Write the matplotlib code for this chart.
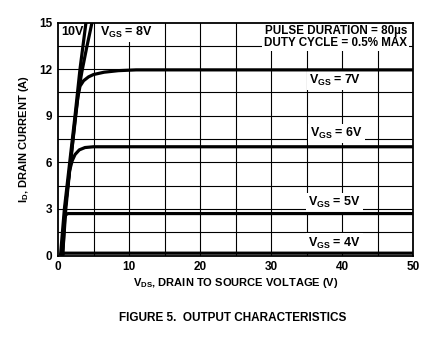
import matplotlib
matplotlib.use("Agg")
import matplotlib.pyplot as plt

plt.rcParams['font.family'] = ['Liberation Sans', 'DejaVu Sans']
plt.rcParams['font.weight'] = 'bold'
plt.rcParams['axes.labelweight'] = 'bold'
plt.rcParams['mathtext.fontset'] = 'custom'
plt.rcParams['mathtext.rm'] = 'Liberation Sans:bold'
plt.rcParams['mathtext.bf'] = 'Liberation Sans:bold'
plt.rcParams['mathtext.it'] = 'Liberation Sans:bold'
plt.rcParams['mathtext.default'] = 'bf'

# Data (V_DS in volts, I_D in amps)
v_10 = [0.35, 0.9, 1.65, 2.4, 3.1, 3.94, 4.2]
i_10 = [0.0, 3.0, 6.0, 9.0, 12.0, 15.0, 16.0]
v_8 = [0.5, 1.0, 1.76, 2.46, 2.9, 3.35, 4.0, 4.79, 5.0]
i_8 = [0.0, 3.0, 6.0, 9.0, 10.6, 11.8, 13.3, 15.0, 15.5]
v_7 = [0.5, 1.0, 1.76, 2.5, 2.8, 3.1, 3.6, 4.3, 5.0, 6.5, 8.5, 11.0, 50.0]
i_7 = [0.0, 3.0, 6.0, 9.0, 10.2, 10.9, 11.25, 11.5, 11.65, 11.8, 11.9, 11.95, 11.95]
v_6 = [0.65, 1.1, 1.65, 2.0, 2.4, 3.0, 3.8, 5.0, 50.0]
i_6 = [0.0, 3.0, 5.5, 6.1, 6.5, 6.8, 6.95, 7.0, 7.0]
v_5 = [0.65, 0.95, 1.1, 1.4, 50.0]
i_5 = [0.0, 2.4, 2.62, 2.7, 2.7]
v_4 = [0.65, 0.75, 50.0]
i_4 = [0.0, 0.15, 0.15]

x_ticks = [0, 10, 20, 30, 40, 50]
y_ticks = [0, 3, 6, 9, 12, 15]
x_grid = [5, 10, 15, 20, 25, 30, 35, 40, 45]
y_grid = [1.5, 3, 4.5, 6, 7.5, 9, 10.5, 12, 13.5]

fig = plt.figure(figsize=(4.45, 3.48), dpi=100)
ax = fig.add_axes([58/445, 1-255.5/348, (413-58)/445, (255.5-22.5)/348])
ax.set_xlim(0, 50)
ax.set_ylim(0, 15)

for g in x_grid:
    ax.axvline(g, color='black', lw=0.8, zorder=1)
for g in y_grid:
    ax.axhline(g, color='black', lw=0.8, zorder=1)

lw = 2.3
for v, i in [(v_4, i_4), (v_5, i_5), (v_6, i_6), (v_7, i_7), (v_8, i_8), (v_10, i_10)]:
    ax.plot(v, i, color='black', lw=lw, solid_capstyle='butt', zorder=5, clip_on=True)

ax.set_xticks(x_ticks)
ax.set_yticks(y_ticks)
ax.tick_params(length=0, labelsize=8.5, pad=4)
for lab in ax.get_xticklabels() + ax.get_yticklabels():
    lab.set_fontweight('bold')
for s in ax.spines.values():
    s.set_linewidth(1.3)
    s.set_zorder(6)

box = dict(facecolor='white', edgecolor='none', pad=1.5)
fs = 9
ax.text(0.5, 14.4, '10V', fontsize=fs, ha='left', va='center', bbox=box, zorder=4)
ax.text(5.9, 14.35, 'V$_{GS}$ = 8V', fontsize=fs, ha='left', va='center', bbox=box, zorder=4)
ax.text(49.2, 14.05, 'PULSE DURATION = 80\u00b5s\nDUTY CYCLE = 0.5% MAX', fontsize=8.4,
        ha='right', va='center', linespacing=1.0, bbox=box, zorder=4)
ax.text(39.0, 11.25, 'V$_{GS}$ = 7V', fontsize=fs, ha='center', va='center', bbox=box, zorder=4)
ax.text(39.2, 7.85, 'V$_{GS}$ = 6V', fontsize=fs, ha='center', va='center', bbox=box, zorder=4)
ax.text(39.0, 3.4, 'V$_{GS}$ = 5V', fontsize=fs, ha='center', va='center', bbox=box, zorder=4)
ax.text(39.0, 0.8, 'V$_{GS}$ = 4V', fontsize=fs, ha='center', va='center', bbox=box, zorder=4)

ax.set_xlabel('V$_{DS}$, DRAIN TO SOURCE VOLTAGE (V)', fontsize=8, fontweight='bold', labelpad=2)
ax.set_ylabel('I$_{D}$, DRAIN CURRENT (A)', fontsize=8, fontweight='bold', labelpad=6)

fig.text(233/445, 1-318/348, 'FIGURE 5.  OUTPUT CHARACTERISTICS', fontsize=8.5,
         ha='center', va='center', fontweight='bold')

fig.savefig('out.png', dpi=100)
